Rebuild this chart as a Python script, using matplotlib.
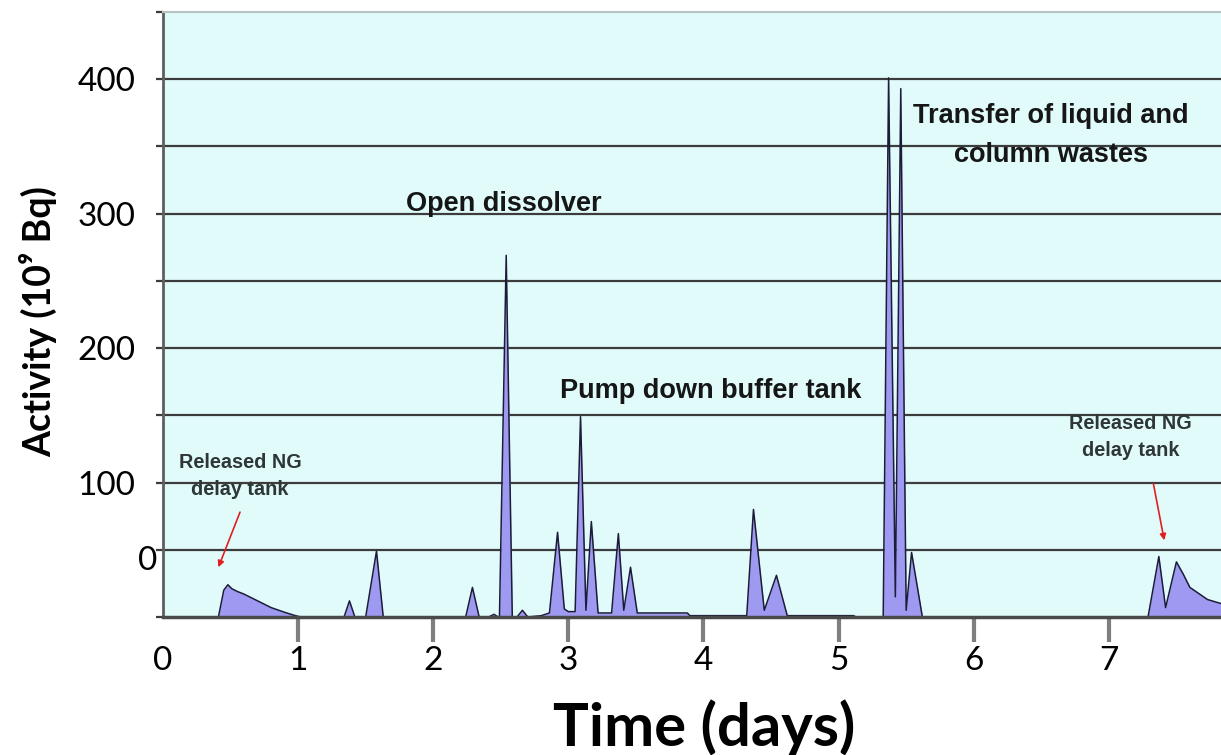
import matplotlib
matplotlib.use("Agg")
import matplotlib.pyplot as plt
from matplotlib import font_manager
from matplotlib.transforms import blended_transform_factory

# ---------------- data ----------------
time_days = [0.00, 0.41, 0.45, 0.48, 0.51, 0.55, 0.60, 0.70, 0.80, 0.90, 0.98, 1.02,
             1.34, 1.38, 1.42, 1.50, 1.58, 1.63,
             2.24, 2.29, 2.34, 2.41, 2.45, 2.48, 2.49, 2.54, 2.585, 2.62, 2.66, 2.70, 2.80,
             2.86, 2.92, 2.97, 3.00, 3.05, 3.09, 3.13, 3.17, 3.22, 3.32, 3.37, 3.41, 3.46,
             3.51, 3.88, 3.90,
             4.32, 4.37, 4.45, 4.54, 4.62, 5.11, 5.13,
             5.33, 5.37, 5.42, 5.46, 5.50, 5.54, 5.62,
             7.29, 7.37, 7.42, 7.50, 7.55, 7.60, 7.73, 7.83]
activity = [0, 0, 20, 24, 21, 19, 17, 12, 7, 3.5, 1, 0,
            0, 12, 0, 0, 49, 0,
            0, 22, 0, 0, 2, 0, 0, 269, 0, 0, 5, 0, 1,
            3, 63, 6, 4, 4, 149, 5, 71, 3, 3, 62, 5, 37,
            3, 3, 1,
            1, 80, 5, 31, 1, 1, 0,
            0, 401, 15, 393, 5, 48, 0,
            0, 45, 7, 41, 32, 22, 13, 10]

x_ticks = [0, 1, 2, 3, 4, 5, 6, 7]
y_grid = [0, 50, 100, 150, 200, 250, 300, 350, 400, 450]
y_labels = {100: "100", 200: "200", 300: "300", 400: "400"}

annotations = [
    ("Open dissolver", 2.52, 307),
    ("Pump down buffer tank", 4.05, 168),
    ("Transfer of liquid and\ncolumn wastes", 6.57, 358),
]
release_labels = [
    ("Released NG\ndelay tank", 0.57, 105, (0.57, 78), (0.41, 37)),
    ("Released NG\ndelay tank", 7.16, 134, (7.33, 99), (7.41, 57)),
]

# ---------------- fonts ----------------
names = {f.name for f in font_manager.fontManager.ttflist}
main_font = "Lato" if "Lato" in names else "DejaVu Sans"
narrow_font = "Liberation Sans Narrow" if "Liberation Sans Narrow" in names else "Liberation Sans"
narrow_scale = 1.2 if narrow_font == "Liberation Sans Narrow" else 1.0

# ---------------- figure ----------------
fig = plt.figure(figsize=(12.21, 7.55), dpi=100)
W, H = 1221, 755
left_px, right_px, top_px, bottom_px = 163, 1221, 12, 617
ax = fig.add_axes([left_px / W, 1 - bottom_px / H, (right_px - left_px) / W, (bottom_px - top_px) / H])
ax.set_facecolor("#e1fbfb")
ax.set_xlim(0, 7.83)
ax.set_ylim(0, 450)

# gridlines
for yv in y_grid[1:-1]:
    ax.axhline(yv, color="#3c3c3c", lw=1.6, zorder=1)

ax.fill_between(time_days, activity, 0, color="#9f9af1", lw=0, zorder=2)
ax.plot(time_days, activity, color="#1c1c38", lw=1.1, zorder=3)

# spines
ax.spines["right"].set_visible(False)
ax.spines["top"].set_color("#b8c4c4")
ax.spines["top"].set_linewidth(1.5)
ax.spines["left"].set_color("#5a5f60")
ax.spines["left"].set_linewidth(2.0)
ax.spines["bottom"].set_color("#4a4a4a")
ax.spines["bottom"].set_linewidth(2.5)
ax.spines["bottom"].set_zorder(4)

# x ticks
ax.set_xticks(x_ticks)
ax.set_xticklabels([str(t) for t in x_ticks], fontsize=24, family=main_font)
ax.tick_params(axis="x", direction="out", length=18, width=3, color="#7f7f7f", pad=3)
ax.xaxis.get_major_ticks()[0].tick1line.set_visible(False)

# y ticks
ax.set_yticks(y_grid)
ax.set_yticklabels([y_labels.get(v, "") for v in y_grid], fontsize=24, family=main_font)
ax.tick_params(axis="y", direction="out", length=5, width=1.6, color="#3c3c3c", pad=15)

# odd "0" label
ax.text(-0.005, 41.5, "0", transform=blended_transform_factory(ax.transAxes, ax.transData),
        ha="right", va="center", fontsize=24, family=main_font)

# axis titles
fig.text(38 / W, 1 - 322 / H, "Activity (10\u2079 Bq)", rotation=90, ha="center", va="center",
         fontsize=27, fontweight="bold", family=[main_font, "DejaVu Sans"])
fig.text(704 / W, 1 - 746 / H, "Time (days)", ha="center", va="baseline",
         fontsize=43, fontweight="bold", family=main_font)

# annotations
for txt, x, y in annotations:
    ax.text(x, y, txt, ha="center", va="center", fontsize=19.5 * narrow_scale, fontweight="bold",
            family=narrow_font, color="#161616", linespacing=1.62, zorder=5)

for txt, x, y, start, end in release_labels:
    ax.text(x, y, txt, ha="center", va="center", fontsize=14.3 * narrow_scale, fontweight="bold",
            family=narrow_font, color="#2e3638", linespacing=1.55, zorder=5)
    ax.annotate("", xy=end, xytext=start,
                arrowprops=dict(arrowstyle="-|>", color="#e02020", lw=1.2,
                                mutation_scale=9, shrinkA=0, shrinkB=0), zorder=5)

fig.savefig("out.png", dpi=100)
